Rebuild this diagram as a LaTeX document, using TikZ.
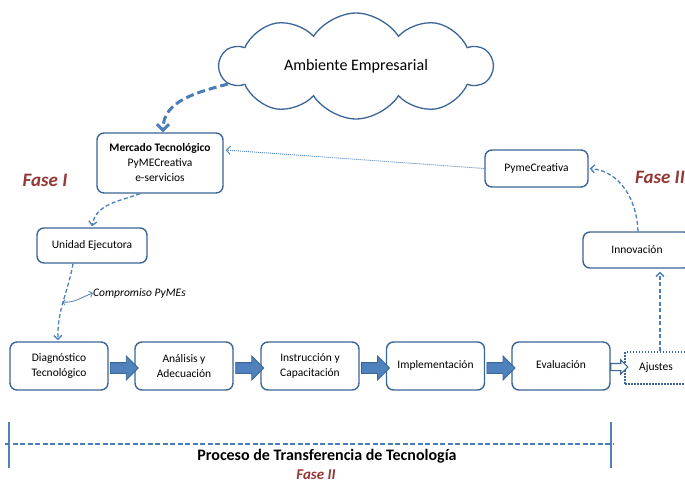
\documentclass[tikz,border=0pt]{standalone}
\usepackage{fontspec}
\setmainfont{Carlito}
\usetikzlibrary{shapes.symbols,shapes.arrows,arrows.meta,calc}
\definecolor{boxblue}{HTML}{3B6596}
\definecolor{lineblue}{HTML}{4A7EBB}
\definecolor{fillblue}{HTML}{4F81BD}
\definecolor{faseRed}{HTML}{953735}
\tikzset{
  box/.style={draw=boxblue, line width=1.4pt, rounded corners=7pt, fill=white,
    align=center, font=\fontsize{11.5}{15}\selectfont, inner sep=2pt},
  dashconn/.style={draw=lineblue, line width=1.3pt, dash pattern=on 4pt off 2.5pt,
    -{Straight Barb[length=4pt,width=8pt]}},
  thickdash/.style={draw=lineblue, line width=3pt, dash pattern=on 8pt off 4pt,
    -{Straight Barb[length=6pt,width=12pt]}},
  blockarr/.style={shape=single arrow, draw=boxblue, fill=fillblue, line width=0.8pt,
    inner sep=5pt, single arrow head extend=6.5pt, minimum height=28pt, anchor=center},
  hollowarr/.style={shape=single arrow, draw=boxblue, fill=white, line width=1.1pt,
    inner sep=3pt, single arrow head extend=3.5pt, minimum height=17pt, anchor=center},
  fase/.style={text=faseRed, font=\fontsize{19}{22}\selectfont\bfseries\itshape},
}
\begin{document}
\begin{tikzpicture}[x=1pt,y=-1pt]
\useasboundingbox (0,0) rectangle (685,484);
\clip (0,0) rectangle (685,484);
% cloud
\node[cloud, cloud puffs=10, cloud puff arc=115, aspect=2.9, draw=boxblue, line width=1.3pt,
  minimum width=272pt, minimum height=94pt, font=\fontsize{16}{18}\selectfont] (cl) at (356,66) {\raisebox{3pt}{Ambiente Empresarial}};
% boxes
\node[box, minimum width=126pt, minimum height=60pt] (mt) at (160,163)
  {\textbf{Mercado Tecnológico}\\PyMECreativa\\e-servicios};
\node[box, minimum width=103pt, minimum height=37pt] (pc) at (536.5,168.5) {PymeCreativa};
\node[box, minimum width=108pt, minimum height=36pt] (inn) at (637,250) {Innovación};
\node[box, minimum width=110pt, minimum height=35pt] (ue) at (92,245.5) {Unidad Ejecutora};
\node[box, minimum width=98pt, minimum height=48pt] (dg) at (59,366) {Diagnóstico\\Tecnológico};
\node[box, minimum width=98pt, minimum height=48pt] (an) at (184,366) {Análisis y\\Adecuación};
\node[box, minimum width=98pt, minimum height=48pt] (in) at (310,366) {Instrucción y\\Capacitación};
\node[box, minimum width=98pt, minimum height=48pt] (im) at (435.5,366) {\raisebox{3pt}{Implementación}};
\node[box, minimum width=98pt, minimum height=48pt] (ev) at (561,366) {\raisebox{3pt}{Evaluación}};
\node[draw=boxblue, line width=1.4pt, dash pattern=on 1.5pt off 1.5pt, minimum width=62pt,
  minimum height=32pt, font=\fontsize{11.5}{15}\selectfont] (aj) at (656,368) {Ajustes};
% block arrows
\node[blockarr] (b1) at ($(dg.east)!0.5!(an.west)+(0,2)$) {};
\node[blockarr] (b2) at ($(an.east)!0.5!(in.west)+(0,2)$) {};
\node[blockarr] (b3) at ($(in.east)!0.5!(im.west)+(0,2)$) {};
\node[blockarr] (b4) at ($(im.east)!0.5!(ev.west)+(0,2)$) {};
\node[hollowarr] (b5) at ($(ev.east)!0.5!(aj.west)$) {};
% connectors
\draw[thickdash] (cl.188) to[out=195,in=90] ($(mt.north)+(3,0)$);
\draw[dashconn] ($(mt.south)+(-20,0)$) to[out=200,in=80] ($(ue.north)+(0,-1)$);
\draw[dashconn] ($(ue.south)+(-19,0)$) to[out=260,in=92] ($(dg.north)+(-1,-1)$);
\coordinate (cpA) at (62,302);
\node[font=\fontsize{11.5}{14}\selectfont\itshape, anchor=west, inner sep=0pt] (cp) at (93,293) {Compromiso PyMEs};
\draw[draw=lineblue, line width=0.8pt, {Straight Barb[length=2.5pt,width=5pt]}-{Straight Barb[length=3pt,width=6pt]}]
  (cpA) to[out=-5,in=200] (cp.west);
\draw[draw=lineblue, line width=0.9pt, dash pattern=on 1pt off 1pt, -{Straight Barb[length=4pt,width=8pt]}]
  (pc.west) -- ($(mt.east)+(2,-13)$);
\draw[dashconn] ($(inn.north)+(1,0)$) to[out=92,in=-5] ($(pc.east)+(1,0)$);
\draw[dashconn] ($(aj.north)+(4,0)$) -- ($(inn.south)+(23,3)$);
% fase labels
\node[fase] (f1) at (45,180) {Fase I};
\node[fase] (f2) at (660,177) {Fase II};
% bottom bracket
\coordinate (lt) at (9,422); \coordinate (lb) at (9,468);
\coordinate (rt) at (611,422); \coordinate (rb) at (611,468);
\coordinate (hl) at (5,444); \coordinate (hr) at (614,444);
\draw[fillblue, line width=2.5pt] (lt) -- (lb);
\draw[fillblue, line width=2.5pt] (rt) -- (rb);
\draw[lineblue, line width=1.3pt, dash pattern=on 5pt off 2.5pt] (hl) -- (hr);
\node[font=\fontsize{16}{18}\selectfont\bfseries, inner sep=0pt] (pt) at (327,456) {Proceso de Transferencia de Tecnología};
\node[fase, font=\fontsize{15}{17}\selectfont\bfseries\itshape, inner sep=0pt] (f3) at (316,474.5) {Fase II};
\end{tikzpicture}
\end{document}
